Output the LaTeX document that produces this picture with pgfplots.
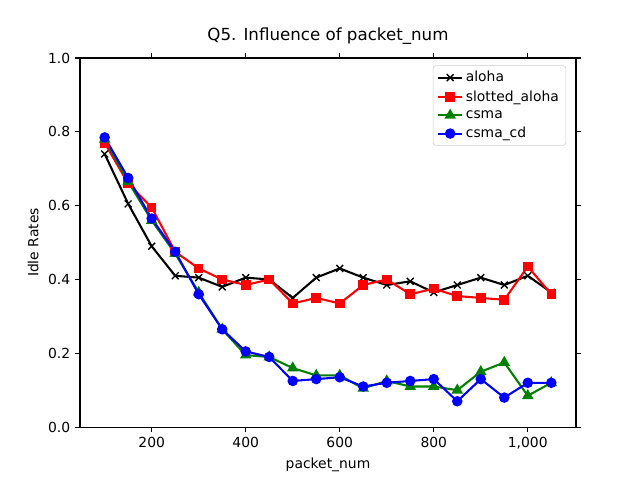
\documentclass[border=0pt]{standalone}
\usepackage{pgfplots}
\pgfplotsset{compat=1.18}
\usepackage{fontspec}
\setmainfont{DejaVu Sans}
\begin{document}
\fontsize{10pt}{12pt}\selectfont
\begin{tikzpicture}
\begin{axis}[scale only axis, width=357.1pt, height=265.7pt,
 xmin=47.5, xmax=1102.5, ymin=0, ymax=1,
 xtick={200,400,600,800,1000}, ytick={0,0.2,0.4,0.6,0.8,1.0},
 yticklabel style={/pgf/number format/.cd,fixed,fixed zerofill,precision=1},
 /pgf/number format/assume math mode=true,
 tick align=outside, tick style={black, line width=0.8pt}, major tick length=3.5pt,
 axis line style={line width=0.8pt},
 xlabel={packet\_num}, ylabel={Idle Rates},
 title={\fontsize{12pt}{14pt}\selectfont Q5. Influence of packet\_num},
 legend pos=north east,
 legend style={draw=black!20, rounded corners=2pt, font=\fontsize{10pt}{12pt}\selectfont, at={(0.98,0.98)}, anchor=north east, row sep=1pt},
 legend cell align=left,
 every axis plot/.append style={line width=1.5pt, mark size=3pt},
]
\addplot[black, mark=x, mark size=3.5pt, mark options={line width=1pt}] coordinates {(100,.74)(150,.605)(200,.49)(250,.41)(300,.405)(350,.38)(400,.405)(450,.40)(500,.35)(550,.405)(600,.43)(650,.405)(700,.385)(750,.395)(800,.365)(850,.385)(900,.405)(950,.385)(1000,.41)(1050,.365)};
\addplot[red, mark=square*, mark size=2.7pt] coordinates {(100,.77)(150,.66)(200,.595)(250,.475)(300,.43)(350,.40)(400,.385)(450,.40)(500,.335)(550,.35)(600,.335)(650,.385)(700,.40)(750,.36)(800,.375)(850,.355)(900,.35)(950,.345)(1000,.435)(1050,.36)};
\addplot[green!50!black, mark=triangle*, mark size=3.3pt] coordinates {(100,.78)(150,.665)(200,.56)(250,.47)(300,.365)(350,.265)(400,.195)(450,.19)(500,.16)(550,.14)(600,.14)(650,.105)(700,.125)(750,.11)(800,.11)(850,.10)(900,.15)(950,.175)(1000,.085)(1050,.12)};
\addplot[blue, mark=*] coordinates {(100,.785)(150,.675)(200,.565)(250,.475)(300,.36)(350,.265)(400,.205)(450,.19)(500,.125)(550,.13)(600,.135)(650,.11)(700,.12)(750,.125)(800,.13)(850,.07)(900,.13)(950,.08)(1000,.12)(1050,.12)};
\legend{aloha,slotted\_aloha,csma,csma\_cd}
\end{axis}
\path[use as bounding box] (-57.6pt,-38.2pt) rectangle (403.2pt,307.5pt);
\end{tikzpicture}
\end{document}
